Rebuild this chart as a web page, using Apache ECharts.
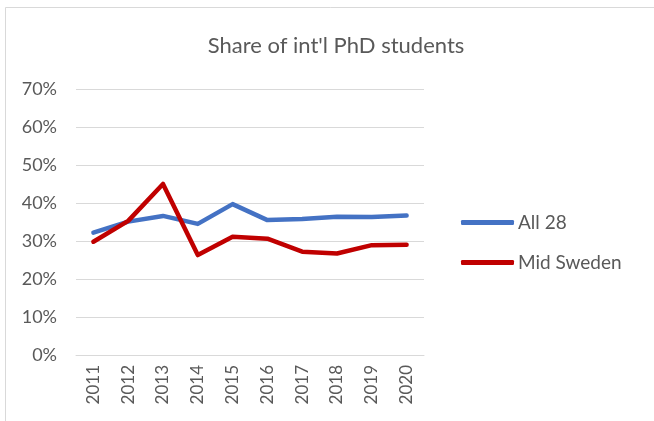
<!DOCTYPE html>
<html><head><meta charset="utf-8">
<script src="https://cdn.jsdelivr.net/npm/echarts@6/dist/echarts.min.js"></script>
<style>html,body{margin:0;padding:0;background:#fff}#c{width:654px;height:421px}</style>
</head><body><div id="c"></div>
<script>
const categories = ['2011','2012','2013','2014','2015','2016','2017','2018','2019','2020'];
const all28 = [32.2, 35.1, 36.6, 34.5, 39.7, 35.5, 35.8, 36.4, 36.3, 36.7];
const midSweden = [29.8, 35.3, 45.0, 26.3, 31.1, 30.6, 27.2, 26.7, 28.9, 29.0];
const yTicks = [0, 10, 20, 30, 40, 50, 60, 70];
const FONT = 'Lato';
const chart = echarts.init(document.getElementById('c'), null, {renderer: 'canvas'});
chart.setOption({
  animation: false,
  backgroundColor: '#fff',
  textStyle: {fontFamily: FONT},
  graphic: [{type: 'rect', shape: {x: 5.5, y: 7.5, width: 700, height: 500}, style: {fill: 'none', stroke: '#d9d9d9', lineWidth: 1}}],
  title: {text: "Share of int'l PhD students", left: 331, top: 30, textAlign: 'center',
    textStyle: {fontFamily: FONT, fontSize: 22, fontWeight: 'normal', color: '#595959'}},
  legend: {orient: 'vertical', left: 461, top: 213, padding: 0, itemWidth: 53, itemHeight: 5, itemGap: 21,
    icon: 'roundRect',
    textStyle: {fontFamily: FONT, fontSize: 19, color: '#595959', padding: [0,0,0,-1]},
    data: ['All 28', 'Mid Sweden']},
  grid: {left: 76, right: 230, top: 89, bottom: 66, containLabel: false},
  xAxis: {type: 'category', data: categories, boundaryGap: true,
    axisLine: {lineStyle: {color: '#d9d9d9', width: 1}}, axisTick: {show: false},
    axisLabel: {rotate: 90, color: '#595959', fontSize: 17, fontFamily: FONT, margin: 10}},
  yAxis: {type: 'value', min: 0, max: 70, interval: 10,
    axisLine: {show: false}, axisTick: {show: false},
    splitLine: {lineStyle: {color: '#d9d9d9', width: 1}},
    axisLabel: {formatter: v => yTicks.includes(v) ? v + '%' : '', color: '#595959', fontSize: 18, fontFamily: FONT, margin: 19}},
  series: [
    {name: 'All 28', type: 'line', data: all28, symbol: 'none', lineStyle: {color: '#4472C4', width: 4.5, cap: 'round', join: 'round'}, itemStyle: {color: '#4472C4'}},
    {name: 'Mid Sweden', type: 'line', data: midSweden, symbol: 'none', lineStyle: {color: '#C00000', width: 4.5, cap: 'round', join: 'round'}, itemStyle: {color: '#C00000'}}
  ]
});
</script></body></html>
